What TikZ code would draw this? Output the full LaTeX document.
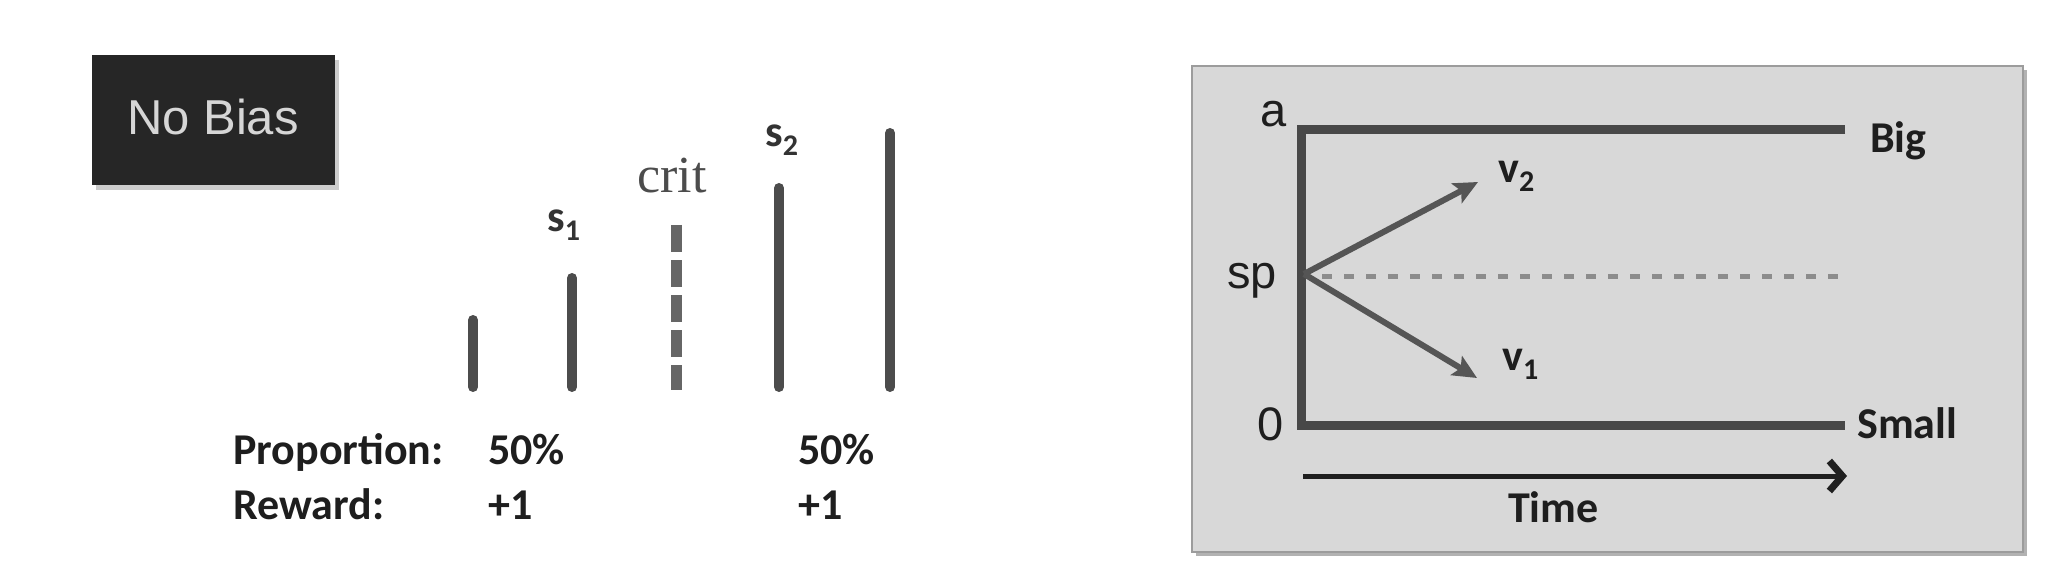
\documentclass[tikz,border=0pt]{standalone}
\usepackage{fontspec}
\setmainfont{Liberation Sans}
\newfontfamily\calfont{Carlito}
\newfontfamily\arifont{Liberation Sans}
\newfontfamily\serfont{Liberation Serif}
\usetikzlibrary{arrows.meta}
\definecolor{barc}{HTML}{4C4C4C}
\definecolor{critc}{HTML}{666666}
\definecolor{txtc}{HTML}{1E1E1E}
\definecolor{boxdark}{HTML}{262626}
\definecolor{boxtxt}{HTML}{D6D6D6}
\definecolor{panelc}{HTML}{D8D8D8}
\definecolor{paneledge}{HTML}{9C9C9C}
\definecolor{axisc}{HTML}{484848}
\definecolor{arrc}{HTML}{555555}
\definecolor{dashc}{HTML}{8C8C8C}
\newcommand\mysubx[2]{#1\raisebox{-9pt}{\fontsize{30}{32}\selectfont #2}}
\begin{document}
\begin{tikzpicture}[x=1pt,y=-1pt,
  lbl/.style={inner sep=0pt, anchor=base west},
  calb/.style={font=\calfont\bfseries\fontsize{44}{50}\selectfont, text=txtc},
  ari/.style={font=\arifont\fontsize{47}{52}\selectfont, text=txtc},
  bar/.style={line width=10pt, line cap=round, draw=barc},
  axisline/.style={line width=9pt, draw=axisc, line join=miter},
  varrow/.style={line width=6pt, draw=arrc, -{Stealth[length=24pt,width=22pt,inset=5pt]}}]
\useasboundingbox (0,0) rectangle (2061,588);
\fill[white] (0,0) rectangle (2061,588);

% ---- No Bias box ----
\fill[gray!40] (96,60) rectangle (339,190);
\node[fill=boxdark, minimum width=243pt, minimum height=130pt, inner sep=0pt, anchor=north west] (nobias) at (92,55) {};
\node[inner sep=0pt, anchor=base, font=\arifont\fontsize{49}{54}\selectfont, text=boxtxt] (nobiastxt) at (213,135) {No Bias};

% ---- bars ----
\coordinate (b1b) at (473,387); \coordinate (b1t) at (473,320);
\coordinate (b2b) at (572,387); \coordinate (b2t) at (572,278);
\coordinate (b3b) at (779,387); \coordinate (b3t) at (779,188);
\coordinate (b4b) at (890,387); \coordinate (b4t) at (890,133);
\coordinate (ct) at (676,225); \coordinate (cb) at (676,390);
\draw[bar] (b1b) -- (b1t);
\draw[bar] (b2b) -- (b2t);
\draw[bar] (b3b) -- (b3t);
\draw[bar] (b4b) -- (b4t);
\draw[line width=11pt, draw=critc, dash pattern=on 27pt off 8pt] (ct) -- (cb);

\node[lbl, calb, text=black!80] (s1) at (547,232) {\mysubx{s}{1}};
\node[lbl, anchor=base, font=\serfont\fontsize{52}{56}\selectfont, text=black!70] (crit) at (672,193) {crit};
\node[lbl, calb, text=black!80] (s2) at (765,147) {\mysubx{s}{2}};

\node[lbl, calb] (prop) at (233,464) {Proportion:};
\node[lbl, calb] (p1) at (488,464) {50\%};
\node[lbl, calb] (p2) at (798,464) {50\%};
\node[lbl, calb] (rew) at (233,519) {Reward:};
\node[lbl, calb] (r1) at (488,519) {+1};
\node[lbl, calb] (r2) at (798,519) {+1};

% ---- right panel ----
\fill[black!30] (1196,70) rectangle (2027,556);
\draw[fill=panelc, draw=paneledge, line width=2pt] (1192,66) rectangle (2023,552);

\coordinate (topend) at (1845,130);
\coordinate (topleft) at (1301,130);
\coordinate (botleft) at (1301,425);
\coordinate (botend) at (1845,425);
\draw[axisline] (topend) -- (topleft) -- (botleft) -- (botend);

\coordinate (sp) at (1304,274);
\coordinate (v2tip) at (1478,182);
\coordinate (v1tip) at (1477,378);
\coordinate (dstart) at (1322,276);
\coordinate (dend) at (1845,276);
\draw[line width=5pt, draw=dashc, dash pattern=on 10pt off 12pt] (dstart) -- (dend);
\draw[varrow] (sp) -- (v2tip);
\draw[varrow] (sp) -- (v1tip);

\coordinate (tstart) at (1303,476);
\coordinate (tend) at (1847,476);
\draw[line width=5pt, draw=black!88, -{Straight Barb[length=13pt,width=30pt,line width=7pt]}] (tstart) -- (tend);

\node[lbl, ari, anchor=base] (a) at (1274,127) {a};
\node[lbl, ari] (sptxt) at (1227,288) {sp};
\node[lbl, ari] (zero) at (1257,440) {0};
\node[lbl, calb] (big) at (1870,153) {Big};
\node[lbl, calb] (small) at (1857,438) {Small};
\node[lbl, calb] (v2) at (1498,183) {\mysubx{v}{2}};
\node[lbl, calb] (v1) at (1502,370) {\mysubx{v}{1}};
\node[lbl, calb] (time) at (1508,522) {Time};
\end{tikzpicture}
\end{document}
